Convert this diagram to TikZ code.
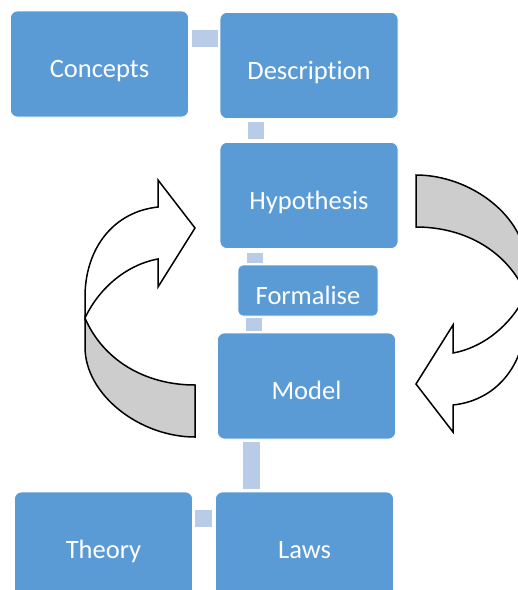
\documentclass[tikz,border=0pt]{standalone}
\usepackage{fontspec}
\setmainfont[Ligatures = NoCommon]{Carlito}
\usepackage{tikz}
\usetikzlibrary{shapes,arrows, positioning}
\definecolor{boxblue}{HTML}{5B9BD5}
\definecolor{linkblue}{HTML}{B8CCE8}
\definecolor{ribbongray}{HTML}{CDCDCD}
\tikzstyle{box} = [rectangle, draw = white, line width = 0.6pt, fill = boxblue, text = white, rounded corners = 7pt, minimum width = 178pt, minimum height = 106pt, inner sep = 0pt, text height = 27.4pt, text depth = 0pt, font = \fontsize{26.5}{30}\selectfont]
\tikzstyle{smallbox} = [box, minimum width = 140pt, minimum height = 51pt, rounded corners = 5pt]
\tikzstyle{link} = [draw = linkblue, line width = 16.5pt]
\tikzstyle{looparrow} = [draw, line width = 1.5pt, fill = white]
\tikzstyle{loopback} = [looparrow, fill = ribbongray]

\begin{document}
\begin{tikzpicture}[x = 1pt, y = -1pt]
			\path [use as bounding box, clip] (0, 0) rectangle (518, 590);
			% Place nodes
			\node [box] (concepts) at (99.5, 64) {Concepts};
			\node [box] (description) at (309, 65.5) {Description};
			\node [box] (hypothesis) at (309, 195.5) {Hypothesis};
			\node [smallbox] (formalise) at (308, 290.5) {Formalise};
			\node [box] (model) at (306.5, 386) {Model};
			\node [box] (theory) at (103.5, 545) {Theory};
			\node [box] (laws) at (304.5, 545) {Laws};
			% Draw edges
			\path [link, shorten <= 3pt, shorten >= 2pt] ([yshift = 25.5pt]concepts.east) -- ([yshift = 25.5pt]concepts.east -| description.west);
			\path [link, shorten <= 3pt, shorten >= 3pt] ([xshift = -53pt]description.south) -- ([xshift = -53pt]description.south |- hypothesis.north);
			\path [link, shorten <= 4pt, shorten >= 2pt] ([xshift = -54pt]hypothesis.south) -- ([xshift = -54pt]hypothesis.south |- formalise.north);
			\path [link, shorten <= 2pt, shorten >= 2pt] ([xshift = -54pt]formalise.south) -- ([xshift = -54pt]formalise.south |- model.north);
			\path [link, shorten <= 3pt, shorten >= 3pt] ([xshift = -55pt]model.south) -- ([xshift = -55pt]model.south |- laws.north);
			\path [link, shorten <= 2pt, shorten >= 3pt] ([yshift = 26.5pt]theory.east) -- ([yshift = 26.5pt]theory.east -| laws.west);
			% Draw loops
			\path [looparrow] (85, 318) -- (85, 297) .. controls (85, 250) and (112, 212) .. (158, 207) -- (158, 180) -- (195, 228) -- (158, 287) -- (158, 259) .. controls (125, 265) and (98, 290) .. (85, 318) -- cycle;
			\path [loopback] (85, 318) .. controls (103, 360) and (145, 385) .. (195, 385) -- (195, 437) .. controls (140, 437) and (85, 395) .. (85, 347) -- cycle;
			\begin{scope}[rotate around = {180:(305.5, 306)}]
			\path [looparrow] (85, 318) -- (85, 297) .. controls (85, 250) and (112, 212) .. (158, 207) -- (158, 180) -- (195, 228) -- (158, 287) -- (158, 259) .. controls (125, 265) and (98, 290) .. (85, 318) -- cycle;
			\path [loopback] (85, 318) .. controls (103, 360) and (145, 385) .. (195, 385) -- (195, 437) .. controls (140, 437) and (85, 395) .. (85, 347) -- cycle;
			\end{scope}
\end{tikzpicture}
\end{document}
